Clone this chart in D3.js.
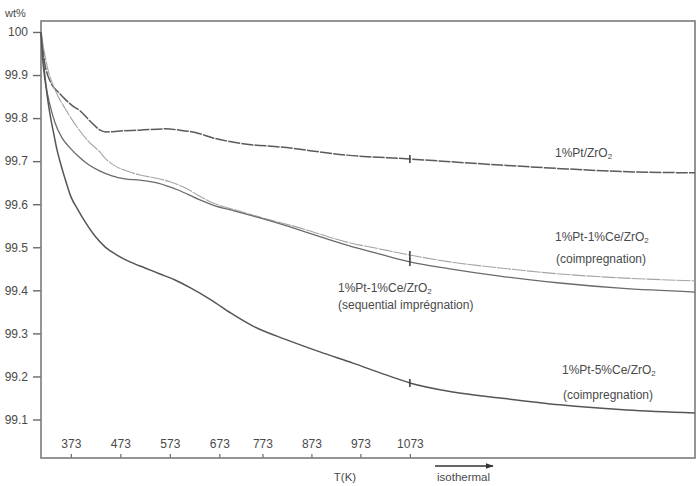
<!DOCTYPE html>
<html><head><meta charset="utf-8">
<script src="https://cdn.jsdelivr.net/npm/d3@7"></script>
<style>body{margin:0;background:#fff}svg{display:block}text{font-family:"Liberation Sans",Arial,sans-serif}</style>
</head><body><svg id="c" width="698" height="486"></svg>
<script>
// ---- data ----
// x is elapsed time (min); temperature tick labels are placed at the time each temperature was reached
const xTickLabels = ["373","473","573","673","773","873","973","1073"];
const xTickTimes  = [6.1, 16.2, 26.3, 36.4, 45.2, 55.2, 65.2, 75.3];
const yTicks = [100, 99.9, 99.8, 99.7, 99.6, 99.5, 99.4, 99.3, 99.2, 99.1];

const seriesNames = ["1%Pt/ZrO2", "1%Pt-1%Ce/ZrO2 (coimpregnation)", "1%Pt-1%Ce/ZrO2 (sequential impregnation)", "1%Pt-5%Ce/ZrO2 (coimpregnation)"];

const ptZrT = [0,0.41,0.82,1.22,2.24,3.47,4.9,6.53,7.96,9.59,11.02,12.04,13.27,16.12,20.2,25.31,28.37,32.04,35.1,41.63,48.78,62.45,75.3,93.67,107.35,120.82,133.5];
const ptZrW = [100,99.958,99.923,99.905,99.877,99.861,99.844,99.828,99.817,99.798,99.782,99.772,99.768,99.77,99.772,99.775,99.772,99.765,99.754,99.74,99.733,99.714,99.705,99.691,99.682,99.675,99.673];

const co1T = [0,0.61,1.43,2.45,3.47,4.9,6.12,7.96,9.59,12.04,13.06,15.1,17.55,20.2,23.27,26.33,29.39,32.04,35.1,39.59,44.69,52.86,62.45,69.18,75.3,83.47,93.67,105.92,118.16,133.5];
const co1W = [100,99.958,99.912,99.877,99.851,99.823,99.8,99.77,99.747,99.721,99.707,99.689,99.677,99.668,99.661,99.652,99.638,99.621,99.603,99.587,99.57,99.545,99.512,99.496,99.482,99.466,99.452,99.438,99.429,99.422];

const seqT = [0,0.41,1.02,1.84,2.86,4.29,5.92,7.55,9.59,12.04,14.49,17.14,20.2,23.88,27.96,32.04,35.1,39.59,44.69,52.86,62.45,69.18,75.3,83.47,93.67,105.92,118.16,133.5];
const seqW = [100,99.947,99.877,99.83,99.789,99.754,99.731,99.712,99.693,99.677,99.666,99.659,99.656,99.649,99.633,99.612,99.598,99.584,99.568,99.54,99.505,99.484,99.466,99.45,99.433,99.417,99.405,99.396];

const co5T = [0,0.2,0.61,1.02,1.43,2.04,2.65,3.27,4.08,5.1,6.12,7.55,9.18,11.02,13.06,15.51,18.16,21.22,24.29,27.35,30.61,34.69,38.78,43.27,50.2,56.94,63.67,70.61,75.3,84.08,93.67,105.92,119.59,133.5];
const co5W = [100,99.958,99.907,99.872,99.838,99.796,99.761,99.726,99.691,99.652,99.617,99.587,99.556,99.526,99.501,99.482,99.466,99.452,99.438,99.424,99.405,99.378,99.347,99.317,99.285,99.257,99.231,99.203,99.185,99.164,99.15,99.134,99.122,99.115];

// ---- layout ----
const L = 41, R = 695, T = 21, B = 458;
const svg = d3.select("#c");
const x = d3.scaleLinear().domain([0, 133.5]).range([L, R]);
const y = d3.scaleLinear().domain([99.0106, 100.0255]).range([B, T]);

const textCol = "#4a4a4a";

// y axis
const yAxis = svg.append("g").attr("transform", `translate(${L},0)`)
  .call(d3.axisLeft(y).tickValues(yTicks).tickSize(8).tickPadding(5).tickFormat(d => d === 100 ? "100" : d.toFixed(1)));
yAxis.select(".domain").remove();
yAxis.selectAll("line").attr("stroke", "#6a6a6a").attr("stroke-width", 1.4);
yAxis.selectAll("text").attr("fill", textCol).style("font-size", "12px").style("font-family", '"Liberation Sans",Arial,sans-serif');

// x axis (ticks pointing up inside the frame, labels above)
const xAxis = svg.append("g").attr("transform", `translate(0,${B})`)
  .call(d3.axisTop(x).tickValues(xTickTimes).tickSize(4).tickPadding(6).tickFormat((d, i) => xTickLabels[i]));
xAxis.select(".domain").remove();
xAxis.selectAll("line").attr("stroke", "#6a6a6a").attr("stroke-width", 1.2);
xAxis.selectAll("text").attr("fill", textCol).style("font-size", "12px").style("font-family", '"Liberation Sans",Arial,sans-serif');

// frame
svg.append("rect").attr("x", L).attr("y", T).attr("width", R - L).attr("height", B - T)
  .attr("fill", "none").attr("stroke", "#7a7a7a").attr("stroke-width", 1.6);

// curves
const series = [
  {t: ptZrT, w: ptZrW, color: "#5a5a5a", width: 1.5, dash: "12,1.2"},
  {t: co1T, w: co1W, color: "#a4a4a4", width: 1.1, dash: "14,1"},
  {t: seqT, w: seqW, color: "#6a6a6a", width: 1.3, dash: null},
  {t: co5T, w: co5W, color: "#555555", width: 1.5, dash: null}
];
const line = d3.line().x(d => x(d[0])).y(d => y(d[1])).curve(d3.curveMonotoneX);
series.forEach(s => {
  const pts = s.t.map((t, i) => [t, s.w[i]]);
  svg.append("path").datum(pts).attr("d", line).attr("fill", "none")
    .attr("stroke", s.color).attr("stroke-width", s.width)
    .attr("stroke-dasharray", s.dash);
  // marker at 1073 K
  const tm = xTickTimes[xTickTimes.length - 1];
  const idx = s.t.indexOf(75.3);
  const wm = s.w[idx];
  svg.append("line").attr("x1", x(tm)).attr("x2", x(tm)).attr("y1", y(wm) - 4).attr("y2", y(wm) + 4)
    .attr("stroke", "#444").attr("stroke-width", 1.6);
});

// labels
function label(xp, yp, main, sub, size) {
  const t = svg.append("text").attr("x", xp).attr("y", yp).attr("fill", textCol).style("font-size", (size || 12) + "px");
  t.append("tspan").text(main);
  if (sub) t.append("tspan").attr("dy", 2).style("font-size", "8px").text(sub);
  return t;
}
svg.append("text").attr("x", 5).attr("y", 17).attr("fill", textCol).style("font-size", "11px").text("wt%");

label(555, 157, "1%Pt/ZrO", "2");
label(555, 241, "1%Pt-1%Ce/ZrO", "2");
label(556, 263, "(coimpregnation)");
label(338, 292, "1%Pt-1%Ce/ZrO", "2");
label(338, 309, "(sequential imprégnation)");
label(562, 374, "1%Pt-5%Ce/ZrO", "2");
label(563, 399, "(coimpregnation)");

svg.append("text").attr("x", 345).attr("y", 481).attr("text-anchor", "middle").attr("fill", textCol).style("font-size", "11.5px").text("T(K)");
svg.append("text").attr("x", 437).attr("y", 481).attr("fill", textCol).style("font-size", "11.5px").text("isothermal");

// arrow
svg.append("defs").append("marker").attr("id", "ah").attr("viewBox", "0 0 10 10").attr("refX", 9).attr("refY", 5)
  .attr("markerWidth", 6).attr("markerHeight", 6).attr("orient", "auto")
  .append("path").attr("d", "M0,1.5L10,5L0,8.5Z").attr("fill", "#333");
svg.append("line").attr("x1", 435).attr("x2", 493).attr("y1", 466).attr("y2", 466)
  .attr("stroke", "#333").attr("stroke-width", 1.3).attr("marker-end", "url(#ah)");
</script></body></html>
